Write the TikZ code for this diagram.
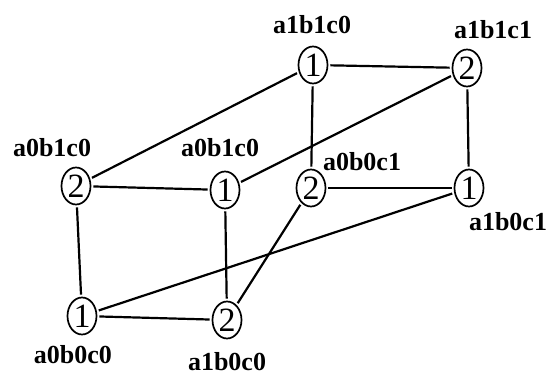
\documentclass[tikz,border=0pt]{standalone}
\usepackage{fontspec}
\setmainfont{Liberation Serif}
\usetikzlibrary{shapes.geometric}

\begin{document}
\begin{tikzpicture}[
  x=1pt, y=-1pt,
  state/.style={draw, ellipse, line width=1.7pt, inner sep=0pt, minimum width=29pt, minimum height=37pt, font=\fontsize{34}{34}\selectfont},
  lbl/.style={font=\bfseries\fontsize{26}{26}\selectfont, inner sep=1pt},
  link/.style={line width=2.2pt, shorten <=2pt, shorten >=2pt}
]
\useasboundingbox (0,0) rectangle (555,377);

% front face (c0)
\node[state] (a0b1c0l) at (76,186) {2};
\node[state] (a0b1c0m) at (225,190) {1};
\node[state] (a0b0c0) at (82,316) {1};
\node[state] (a1b0c0) at (227,320) {2};
% back face
\node[state] (a1b1c0) at (313,65) {1};
\node[state] (a1b1c1) at (467,68) {2};
\node[state] (a0b0c1) at (311,188) {2};
\node[state] (a1b0c1) at (469,188) {1};

% labels
\node[lbl] at (52,148) {a0b1c0};
\node[lbl] at (220,148) {a0b1c0};
\node[lbl] at (312,25) {a1b1c0};
\node[lbl] at (493,30) {a1b1c1};
\node[lbl] at (362,162) {a0b0c1};
\node[lbl] at (508,222) {a1b0c1};
\node[lbl] at (73,355) {a0b0c0};
\node[lbl] at (227,362) {a1b0c0};

% edges
\draw[link] (a0b1c0l) -- (a0b1c0m);
\draw[link] (a0b1c0l) -- (a1b1c0);
\draw[link] (a0b1c0l) -- (a0b0c0);
\draw[link] (a0b1c0m) -- (a1b1c1);
\draw[link] (a0b1c0m) -- (a1b0c0);
\draw[link] (a1b1c0) -- (a1b1c1);
\draw[link] (a1b1c0) -- (a0b0c1);
\draw[link] (a1b1c1) -- (a1b0c1);
\draw[link] (a0b0c1) -- (a1b0c1);
\draw[link] (a0b0c0) -- (a1b0c0);
\draw[link] (a0b0c0) -- (a1b0c1);
\draw[link] (a1b0c0) -- (a0b0c1);
\end{tikzpicture}
\end{document}
